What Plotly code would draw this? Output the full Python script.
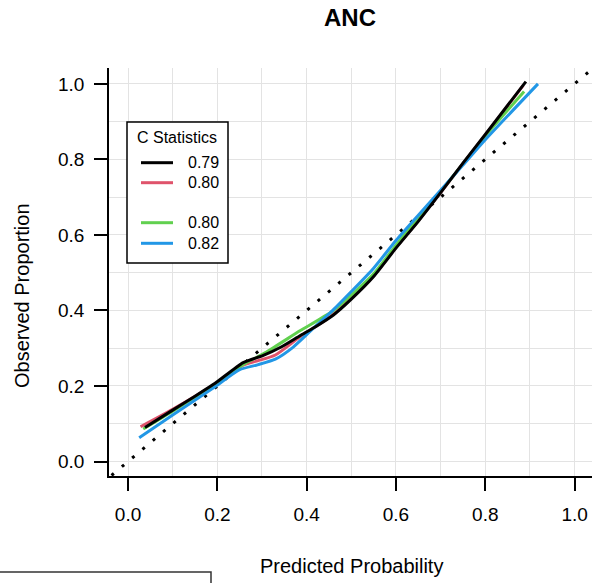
import plotly.graph_objects as go

# ---- data ----
black_x = [0.038, 0.10, 0.15, 0.195, 0.258, 0.303, 0.344, 0.385, 0.42, 0.46, 0.50, 0.55, 0.60, 0.65, 0.70, 0.75, 0.80, 0.891]
black_y = [0.090, 0.136, 0.173, 0.207, 0.262, 0.281, 0.304, 0.333, 0.357, 0.388, 0.430, 0.490, 0.565, 0.636, 0.712, 0.790, 0.866, 1.006]

red_x = [0.028, 0.10, 0.195, 0.258, 0.288, 0.33, 0.385, 0.46, 0.55, 0.60, 0.65, 0.70, 0.75, 0.80, 0.885]
red_y = [0.092, 0.138, 0.205, 0.255, 0.266, 0.282, 0.330, 0.390, 0.492, 0.567, 0.638, 0.712, 0.789, 0.864, 0.996]

green_x = [0.034, 0.10, 0.195, 0.26, 0.31, 0.385, 0.46, 0.55, 0.60, 0.65, 0.70, 0.75, 0.80, 0.887]
green_y = [0.086, 0.133, 0.205, 0.258, 0.290, 0.346, 0.400, 0.497, 0.573, 0.645, 0.715, 0.788, 0.862, 0.980]

blue_x = [0.025, 0.10, 0.195, 0.25, 0.29, 0.33, 0.37, 0.41, 0.46, 0.50, 0.55, 0.60, 0.65, 0.70, 0.75, 0.80, 0.918]
blue_y = [0.063, 0.123, 0.198, 0.243, 0.256, 0.271, 0.303, 0.347, 0.402, 0.450, 0.512, 0.585, 0.652, 0.718, 0.785, 0.852, 1.000]

ref_x = [-0.06, 1.06]
ref_y = [-0.06, 1.06]

legend_title = "C Statistics"
legend_labels = ["0.79", "0.80", "", "0.80", "0.82"]
legend_colors = ["#000000", "#DF536B", None, "#61D04F", "#2297E6"]

tick_vals = [0.0, 0.2, 0.4, 0.6, 0.8, 1.0]
tick_text = ["0.0", "0.2", "0.4", "0.6", "0.8", "1.0"]

FONT = "Liberation Sans, Arial, Helvetica, sans-serif"

fig = go.Figure()

fig.add_trace(go.Scatter(x=ref_x, y=ref_y, mode="lines",
                         line=dict(color="black", width=3, dash="3px,10.5px"),
                         showlegend=False, hoverinfo="skip"))

series = [
    (red_x, red_y, "#DF536B"),
    (green_x, green_y, "#61D04F"),
    (blue_x, blue_y, "#2297E6"),
    (black_x, black_y, "#000000"),
]
for xs, ys, col in series:
    fig.add_trace(go.Scatter(x=xs, y=ys, mode="lines",
                             line=dict(color=col, width=3, shape="spline", smoothing=0.6),
                             showlegend=False))

# pixel -> paper helpers
L, R_, T, B = 109, 7, 68, 107
W, H = 599, 583
PW, PH = W - L - R_, H - T - B


def px(xp):
    return (xp - L) / PW


def py(yp):
    return (H - B - yp) / PH


shapes = []
annotations = []

# legend box
shapes.append(dict(type="rect", xref="paper", yref="paper",
                   x0=px(127), x1=px(228), y0=py(263), y1=py(122),
                   line=dict(color="black", width=1.5), fillcolor="white", layer="above"))
annotations.append(dict(text=legend_title, xref="paper", yref="paper",
                        x=px(177), y=py(137), xanchor="center", yanchor="middle",
                        showarrow=False, font=dict(size=16, color="black", family=FONT)))
row_y = [162.7, 182.7, 202.7, 222.7, 243.3]
for lab, col, ry in zip(legend_labels, legend_colors, row_y):
    if col is None:
        continue
    shapes.append(dict(type="line", xref="paper", yref="paper",
                       x0=px(141), x1=px(173), y0=py(ry), y1=py(ry),
                       line=dict(color=col, width=3), layer="above"))
    annotations.append(dict(text=lab, xref="paper", yref="paper",
                            x=px(186), y=py(ry), xanchor="left", yanchor="middle",
                            showarrow=False, font=dict(size=16, color="black", family=FONT)))

# axis titles
annotations.append(dict(text="Predicted Probability", xref="paper", yref="paper",
                        x=px(351), y=py(566), xanchor="center", yanchor="middle",
                        showarrow=False, font=dict(size=20, color="black", family=FONT)))
annotations.append(dict(text="Observed Proportion", xref="paper", yref="paper",
                        x=px(22), y=py(296), xanchor="center", yanchor="middle",
                        textangle=-90, showarrow=False,
                        font=dict(size=20, color="black", family=FONT)))

# partially visible box at bottom-left
shapes.append(dict(type="rect", xref="paper", yref="paper",
                   x0=px(-10), x1=px(211), y0=py(620), y1=py(572),
                   line=dict(color="#333333", width=1.5), fillcolor="rgba(0,0,0,0)"))

axis_common = dict(
    showline=True, linecolor="black", linewidth=1.5, mirror=False,
    ticks="outside", ticklen=13, tickwidth=1.5, tickcolor="black",
    tickvals=tick_vals, ticktext=tick_text,
    tickfont=dict(size=19, color="black", family=FONT),
    showgrid=True, gridcolor="#e3e3e3", gridwidth=1,
    minor=dict(dtick=0.1, tick0=0, showgrid=True, gridcolor="#e3e3e3", gridwidth=1, ticks=""),
    zeroline=False,
)

fig.update_layout(
    width=W, height=H,
    margin=dict(l=L, r=R_, t=T, b=B),
    paper_bgcolor="white", plot_bgcolor="white",
    font=dict(family=FONT, color="black"),
    title=dict(text="<b>ANC</b>", x=px(350), xref="paper", y=1 - 18 / H, yref="container",
               xanchor="center", yanchor="middle",
               font=dict(size=24, color="black", family=FONT)),
    xaxis=dict(range=[-0.0426, 1.039], ticklabelstandoff=7, **axis_common),
    yaxis=dict(range=[-0.0384, 1.042], ticklabelstandoff=6, **axis_common),
    shapes=shapes, annotations=annotations,
    showlegend=False,
)

fig.write_html("out.html")
